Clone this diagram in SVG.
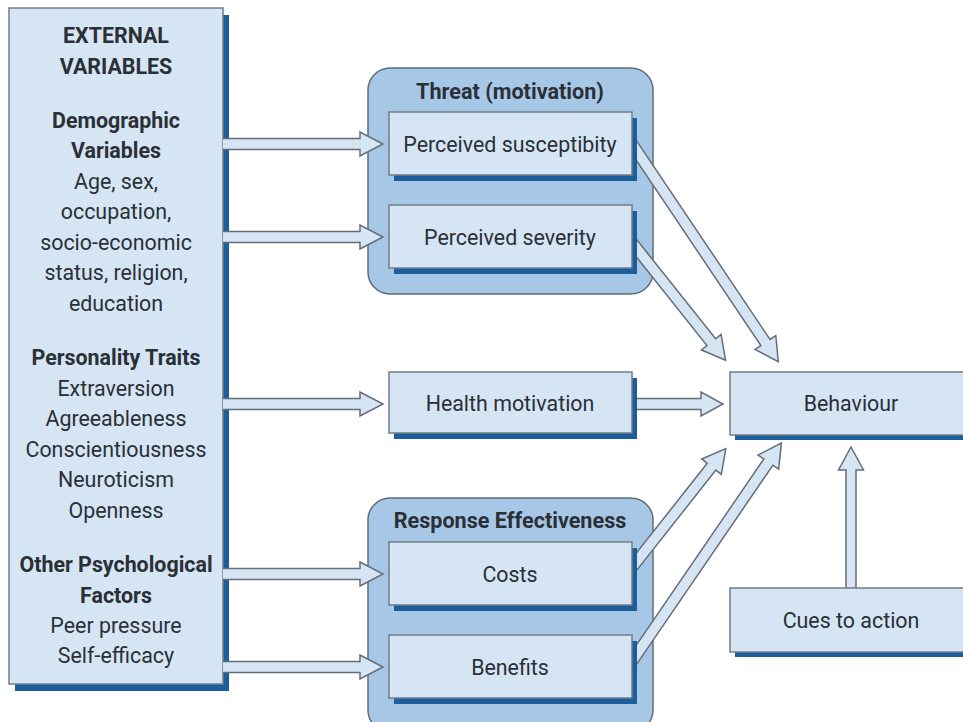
<svg xmlns="http://www.w3.org/2000/svg" width="963" height="722" viewBox="0 0 963 722">
<style>
.bg{fill:#ffffff}
.box{fill:#d5e5f3;stroke:#727c86;stroke-width:1.5}
.sh{fill:#1b5e9b}
.cl{fill:#a6c8e6;stroke:#5f6d7a;stroke-width:1.5}
.ar{fill:#d5e5f3;stroke:#656d76;stroke-width:1.5;stroke-linejoin:miter}
text{font-family:Roboto,"Liberation Sans",sans-serif;fill:#2b2f36;text-anchor:middle;font-size:21.4px}
.b{font-weight:bold}
.t{font-size:21.6px}
</style>
<rect class="bg" width="963" height="722"/>
<g id="threat-cluster">
<rect class="cl" x="368" y="68" width="285" height="226" rx="22"/>
<text class="b t" x="510" y="99">Threat (motivation)</text>
</g>
<g id="response-cluster">
<rect class="cl" x="368" y="498" width="285" height="234" rx="22"/>
<text class="b t" x="510" y="528">Response Effectiveness</text>
</g>
<g id="external-variables">
<rect class="sh" x="15" y="15" width="214" height="676"/>
<rect class="box" x="9" y="8" width="214" height="676"/>
<text class="b" x="116" y="43">EXTERNAL</text>
<text class="b" x="116" y="74">VARIABLES</text>
<text class="b" x="116" y="128">Demographic</text>
<text class="b" x="116" y="158">Variables</text>
<text x="116" y="189">Age, sex,</text>
<text x="116" y="219">occupation,</text>
<text x="116" y="250">socio-economic</text>
<text x="116" y="280">status, religion,</text>
<text x="116" y="311">education</text>
<text class="b" x="116" y="365">Personality Traits</text>
<text x="116" y="396">Extraversion</text>
<text x="116" y="426">Agreeableness</text>
<text x="116" y="457">Conscientiousness</text>
<text x="116" y="487">Neuroticism</text>
<text x="116" y="518">Openness</text>
<text class="b" x="116" y="572">Other Psychological</text>
<text class="b" x="116" y="603">Factors</text>
<text x="116" y="633">Peer pressure</text>
<text x="116" y="663">Self-efficacy</text>
</g>
<g id="connectors">
<path class="ar" d="M223,138.5 H360 V132 L383,144 L360,156 V149.5 H223"/>
<path class="ar" d="M223,231.5 H360 V225 L383,237 L360,249 V242.5 H223"/>
<path class="ar" d="M223,398.5 H360 V392 L383,404 L360,416 V409.5 H223"/>
<path class="ar" d="M223,568.5 H360 V562 L383,574 L360,586 V579.5 H223"/>
<path class="ar" d="M223,661.5 H360 V655 L383,667 L360,679 V672.5 H223"/>
<path class="ar" d="M632,398.5 H701 V392 L723,404 L701,416 V409.5 H632"/>
<path class="ar" d="M846,588 V470 H838.5 L851,447 L863.5,470 H856 V588"/>
<g transform="translate(626,135) rotate(56.1)">
<path class="ar" d="M0,-5.5 H250 V-12.5 L273,0 L250,12.5 V5.5 H0"/>
</g>
<g transform="translate(626,235) rotate(51.5)">
<path class="ar" d="M0,-5.5 H137 V-12.5 L160,0 L137,12.5 V5.5 H0"/>
</g>
<g transform="translate(626,575) rotate(-51.7)">
<path class="ar" d="M0,-5.5 H138 V-12.5 L161,0 L138,12.5 V5.5 H0"/>
</g>
<g transform="translate(626,670) rotate(-55.6)">
<path class="ar" d="M0,-5.5 H252 V-12.5 L275,0 L252,12.5 V5.5 H0"/>
</g>
</g>
<g id="perceived-susceptibility">
<rect class="sh" x="394" y="118" width="243" height="63"/>
<rect class="box" x="389" y="112" width="243" height="63"/>
<text x="510" y="152">Perceived susceptibity</text>
</g>
<g id="perceived-severity">
<rect class="sh" x="394" y="211" width="243" height="63"/>
<rect class="box" x="389" y="205" width="243" height="63"/>
<text x="510" y="245">Perceived severity</text>
</g>
<g id="health-motivation">
<rect class="sh" x="394" y="378" width="243" height="61"/>
<rect class="box" x="389" y="372" width="243" height="61"/>
<text x="510" y="411">Health motivation</text>
</g>
<g id="costs">
<rect class="sh" x="394" y="548" width="243" height="63"/>
<rect class="box" x="389" y="542" width="243" height="63"/>
<text x="510" y="582">Costs</text>
</g>
<g id="benefits">
<rect class="sh" x="394" y="641" width="243" height="63"/>
<rect class="box" x="389" y="635" width="243" height="63"/>
<text x="510" y="675">Benefits</text>
</g>
<g id="behaviour">
<rect class="sh" x="735" y="378" width="240" height="62"/>
<rect class="box" x="730" y="372" width="240" height="63"/>
<text x="851" y="411">Behaviour</text>
</g>
<g id="cues-to-action">
<rect class="sh" x="735" y="594" width="240" height="63"/>
<rect class="box" x="730" y="588" width="240" height="64"/>
<text x="851" y="628">Cues to action</text>
</g>
</svg>
